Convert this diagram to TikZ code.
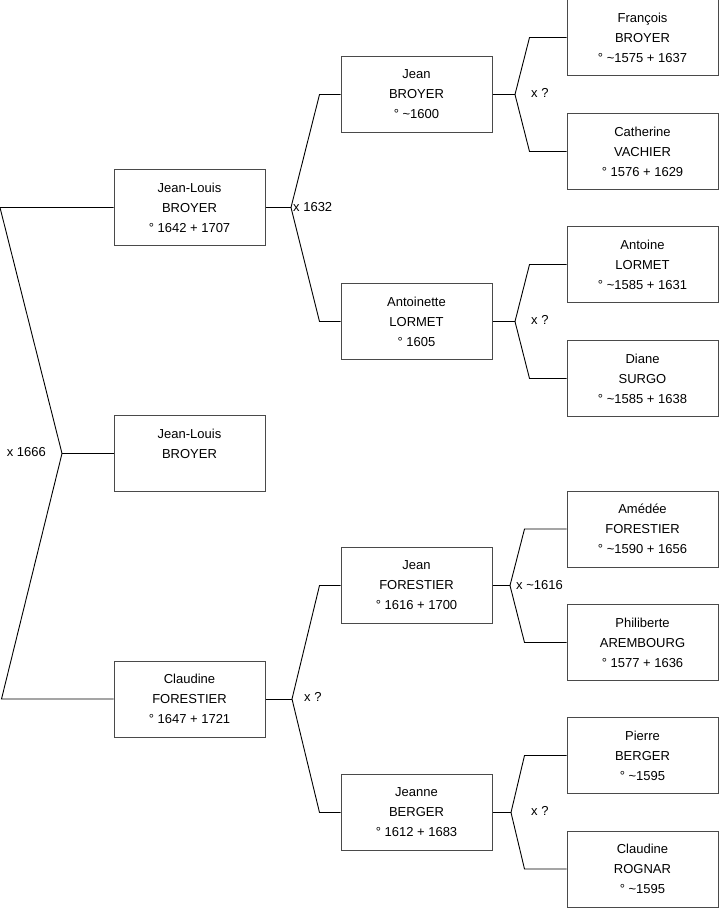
\documentclass[tikz,border=0pt]{standalone}
\usepackage{fontspec}
\setmainfont{Liberation Sans}
\usetikzlibrary{calc}
\definecolor{boxline}{HTML}{4A4A4A}
\newcommand{\tld}{\char"7E\relax}
\tikzset{
  person/.style={draw=boxline, line width=1pt, fill=white, minimum width=151pt, minimum height=76pt,
    inner sep=0pt, align=center, font=\fontsize{13}{20}\selectfont},
  link/.style={draw=black, line width=0.9pt},
  marr/.style={font=\fontsize{13}{15}\selectfont, inner sep=0pt},
}
\begin{document}
\begin{tikzpicture}[x=1pt,y=-1pt]
\useasboundingbox (0,0) rectangle (719,908);
% generation 1
\node[person] (jl)  at (189.5,207.5) {Jean-Louis\\BROYER\\° 1642 + 1707};
\node[person] (me)  at (189.5,453.5) {Jean-Louis\\BROYER\\\mbox{}};
\node[person] (cf)  at (189.5,699) {Claudine\\FORESTIER\\° 1647 + 1721};
% generation 2
\node[person] (jb)  at (416.5,94.5) {Jean\\BROYER\\° \tld1600};
\node[person] (al)  at (416.5,321.5) {Antoinette\\LORMET\\° 1605};
\node[person] (jf)  at (416.5,585.5) {Jean\\FORESTIER\\° 1616 + 1700};
\node[person] (jeb) at (416.5,812.5) {Jeanne\\BERGER\\° 1612 + 1683};
% generation 3
\node[person] (fb)  at (642.5,37.5) {François\\BROYER\\° \tld1575 + 1637};
\node[person] (cv)  at (642.5,151.5) {Catherine\\VACHIER\\° 1576 + 1629};
\node[person] (alo) at (642.5,264.5) {Antoine\\LORMET\\° \tld1585 + 1631};
\node[person] (ds)  at (642.5,378.5) {Diane\\SURGO\\° \tld1585 + 1638};
\node[person] (af)  at (642.5,529) {Amédée\\FORESTIER\\° \tld1590 + 1656};
\node[person] (pa)  at (642.5,642.5) {Philiberte\\AREMBOURG\\° 1577 + 1636};
\node[person] (pb)  at (642.5,755.5) {Pierre\\BERGER\\° \tld1595};
\node[person] (cr)  at (642.5,869) {Claudine\\ROGNAR\\° \tld1595};
% junction points
\coordinate (m0) at (62,453.5);
\coordinate (m1) at (291,207.5);
\coordinate (m2) at (292,699);
\coordinate (m3) at (515,94.5);
\coordinate (m4) at (515,321.5);
\coordinate (m5) at (510,585.5);
\coordinate (m6) at (511,812.5);
% connectors
\draw[link] (me.west) -- (m0);
\draw[link] (jl.west) -- ($(jl.west)+(-113.5,0)$) -- (m0) -- ($(cf.west)+(-112,0)$) -- (cf.west);
\draw[link] (jl.east) -- (m1);
\draw[link] (jb.west) -- ($(jb.west)+(-21,0)$) -- (m1) -- ($(al.west)+(-21,0)$) -- (al.west);
\draw[link] (cf.east) -- (m2);
\draw[link] (jf.west) -- ($(jf.west)+(-21,0)$) -- (m2) -- ($(jeb.west)+(-21,0)$) -- (jeb.west);
\draw[link] (jb.east) -- (m3);
\draw[link] (fb.west) -- ($(fb.west)+(-37,0)$) -- (m3) -- ($(cv.west)+(-37,0)$) -- (cv.west);
\draw[link] (al.east) -- (m4);
\draw[link] (alo.west) -- ($(alo.west)+(-37,0)$) -- (m4) -- ($(ds.west)+(-37,0)$) -- (ds.west);
\draw[link] (jf.east) -- (m5);
\draw[link] (af.west) -- ($(af.west)+(-42,0)$) -- (m5) -- ($(pa.west)+(-42,0)$) -- (pa.west);
\draw[link] (jeb.east) -- (m6);
\draw[link] (pb.west) -- ($(pb.west)+(-42,0)$) -- (m6) -- ($(cr.west)+(-42,0)$) -- (cr.west);
% marriage labels
\node[marr, anchor=east] (l0) at (46,452) {x 1666};
\node[marr, anchor=west] (l1) at (293,207) {x 1632};
\node[marr, anchor=west] (l2) at (304,697) {x ?};
\node[marr, anchor=west] (l3) at (531,93) {x ?};
\node[marr, anchor=west] (l4) at (531,320) {x ?};
\node[marr, anchor=west] (l5) at (516,585) {x \tld1616};
\node[marr, anchor=west] (l6) at (531,811) {x ?};
\end{tikzpicture}
\end{document}
